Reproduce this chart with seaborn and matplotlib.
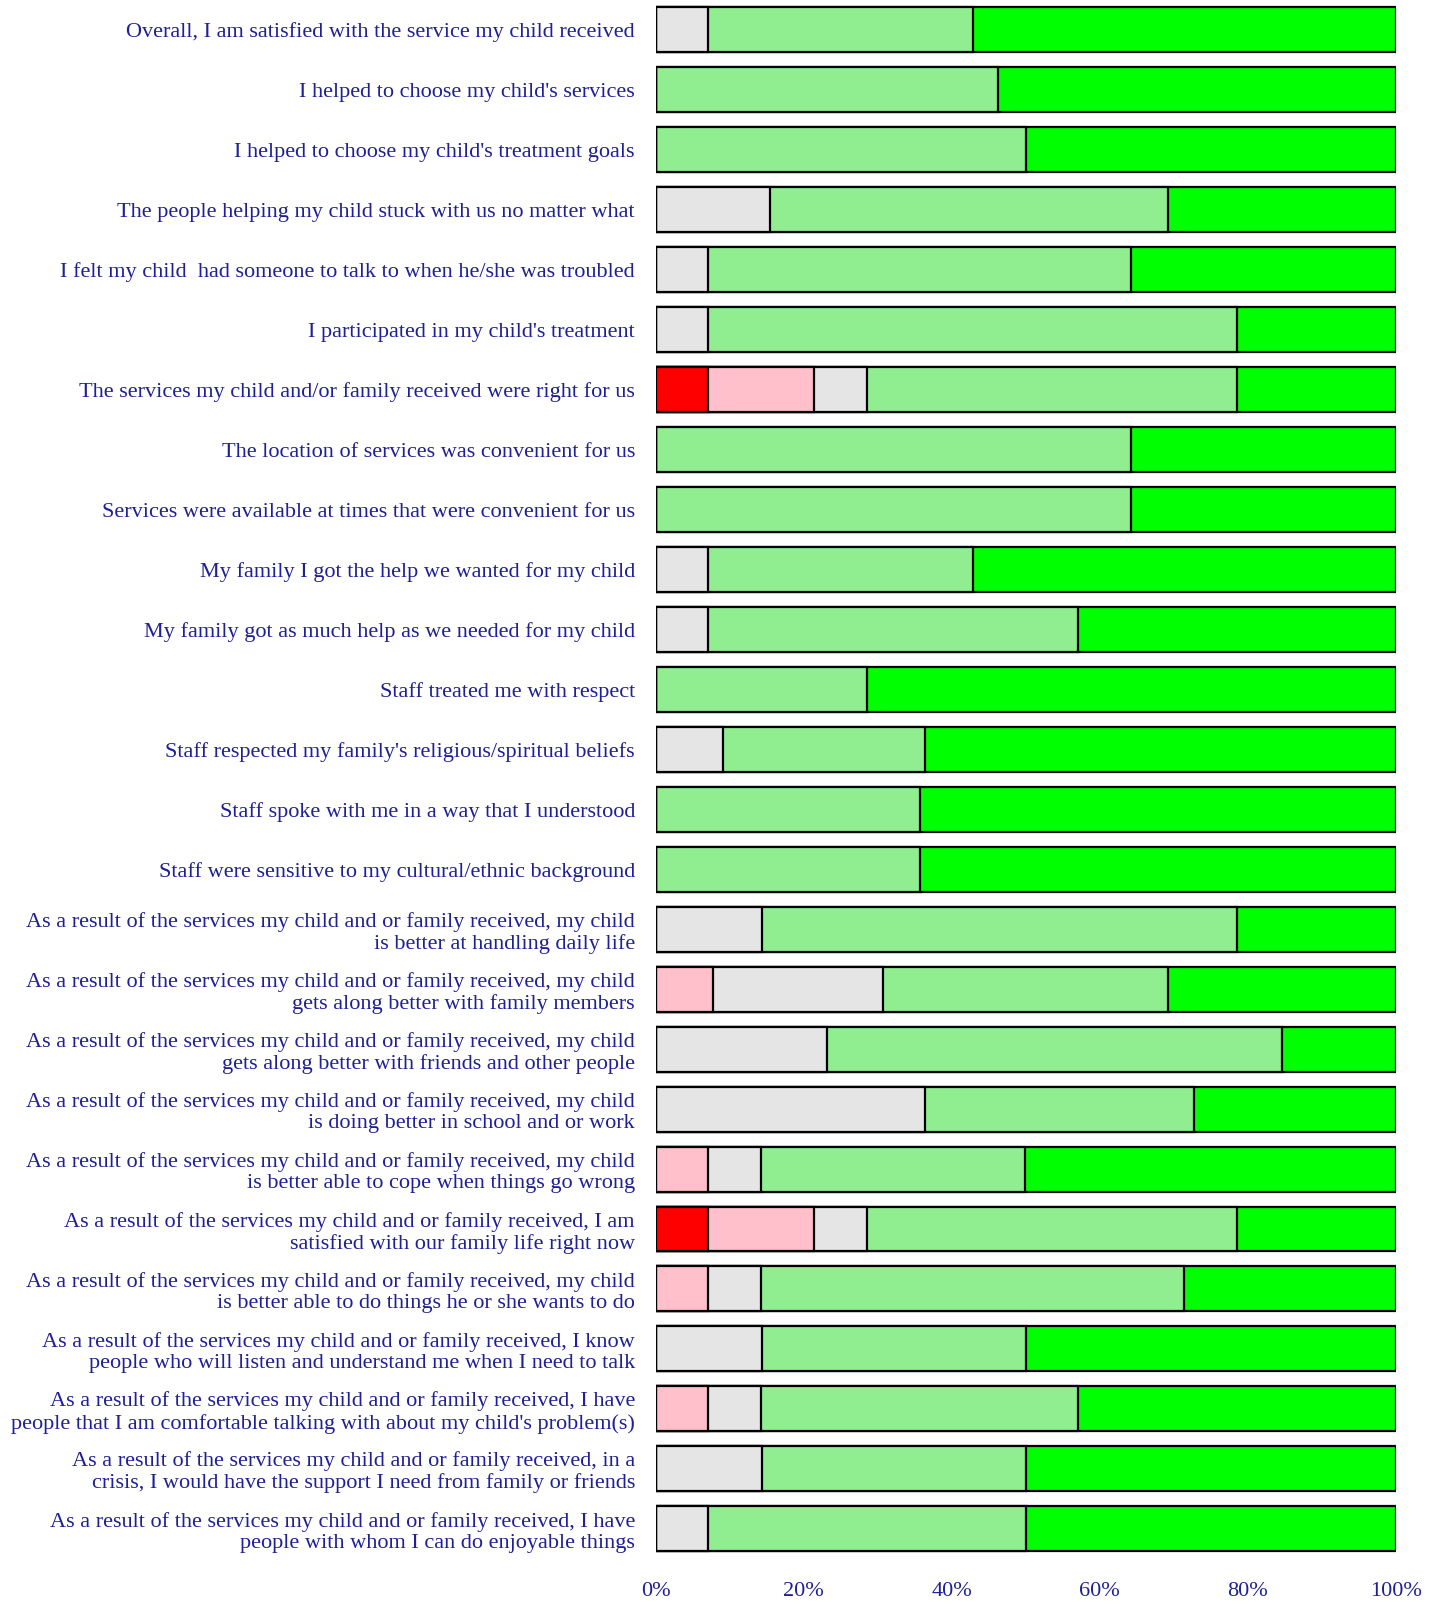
import numpy as np
import pandas as pd
import matplotlib
matplotlib.use("Agg")
import matplotlib.pyplot as plt
import seaborn as sns

# Survey items, top to bottom
pre = "As a result of the services my child and or family received, "
items = [
    "Overall, I am satisfied with the service my child received",
    "I helped to choose my child's services",
    "I helped to choose my child's treatment goals",
    "The people helping my child stuck with us no matter what",
    "I felt my child  had someone to talk to when he/she was troubled",
    "I participated in my child's treatment",
    "The services my child and/or family received were right for us",
    "The location of services was convenient for us",
    "Services were available at times that were convenient for us",
    "My family I got the help we wanted for my child",
    "My family got as much help as we needed for my child",
    "Staff treated me with respect",
    "Staff respected my family's religious/spiritual beliefs",
    "Staff spoke with me in a way that I understood",
    "Staff were sensitive to my cultural/ethnic background",
    pre + "my child\nis better at handling daily life",
    pre + "my child\ngets along better with family members",
    pre + "my child\ngets along better with friends and other people",
    pre + "my child\nis doing better in school and or work",
    pre + "my child\nis better able to cope when things go wrong",
    pre + "I am\nsatisfied with our family life right now",
    pre + "my child\nis better able to do things he or she wants to do",
    pre + "I know\npeople who will listen and understand me when I need to talk",
    pre + "I have\npeople that I am comfortable talking with about my child's problem(s)",
    pre + "in a\ncrisis, I would have the support I need from family or friends",
    pre + "I have\npeople with whom I can do enjoyable things",
]

# Percent of responses per category (segment widths)
strongly_disagree = [0, 0, 0, 0, 0, 0, 7.1, 0, 0, 0, 0, 0, 0, 0, 0,
                     0, 0, 0, 0, 0, 7.1, 0, 0, 0, 0, 0]
disagree = [0, 0, 0, 0, 0, 0, 14.3, 0, 0, 0, 0, 0, 0, 0, 0,
            0, 7.7, 0, 0, 7.1, 14.3, 7.1, 0, 7.1, 0, 0]
neutral = [7.1, 0, 0, 15.4, 7.1, 7.1, 7.1, 0, 0, 7.1, 7.1, 0, 9.1, 0, 0,
           14.3, 23.1, 23.1, 36.4, 7.1, 7.1, 7.1, 14.3, 7.1, 14.3, 7.1]
agree = [35.7, 46.2, 50.0, 53.8, 57.1, 71.4, 50.0, 64.3, 64.3, 35.7, 50.0, 28.6, 27.3, 35.7, 35.7,
         64.3, 38.5, 61.5, 36.4, 35.7, 50.0, 57.1, 35.7, 42.9, 35.7, 42.9]
strongly_agree = [57.1, 53.8, 50.0, 30.8, 35.7, 21.4, 21.4, 35.7, 35.7, 57.1, 42.9, 71.4, 63.6, 64.3, 64.3,
                  21.4, 30.8, 15.4, 27.3, 50.0, 21.4, 28.6, 50.0, 42.9, 50.0, 50.0]

levels = [strongly_disagree, disagree, neutral, agree, strongly_agree]
colors = ["#ff0000", "#ffc0cb", "#e5e5e5", "#90ee90", "#00ff00"]

vals = np.array(levels, dtype=float)
vals = vals / vals.sum(axis=0) * 100
cum = np.cumsum(vals, axis=0)

fig = plt.figure(figsize=(14.38, 16.02), dpi=100)
ax = fig.add_axes([0.456, 0.027, 0.5145, 0.973])

text_color = "#1f1f96"
serif = ["Liberation Serif", "DejaVu Serif"]

# draw cumulative layers from the widest to the narrowest
for i in range(len(levels) - 1, -1, -1):
    df = pd.DataFrame({"item": items, "value": cum[i]})
    sns.barplot(data=df, y="item", x="value", order=items, orient="h",
                color=colors[i], saturation=1, width=0.75, errorbar=None,
                edgecolor="black", linewidth=1.6, ax=ax)

ax.set_xlim(0, 100)
ax.set_ylim(len(items) - 0.5, -0.5)
ax.set_xticks([0, 20, 40, 60, 80, 100])
ax.set_xticklabels([f"{t}%" for t in [0, 20, 40, 60, 80, 100]])
ax.set_xlabel("")
ax.set_ylabel("")
for s in ax.spines.values():
    s.set_visible(False)
ax.tick_params(axis="both", length=0, colors=text_color)
ax.tick_params(axis="x", pad=17)
ax.tick_params(axis="y", pad=15)
for lbl in ax.get_yticklabels() + ax.get_xticklabels():
    lbl.set_fontfamily(serif)
    lbl.set_fontsize(16)
    lbl.set_color(text_color)
for lbl in ax.get_yticklabels():
    lbl.set_horizontalalignment("right")
    lbl.set_multialignment("right")
    lbl.set_linespacing(1.15)

fig.savefig("out.png", dpi=100)
